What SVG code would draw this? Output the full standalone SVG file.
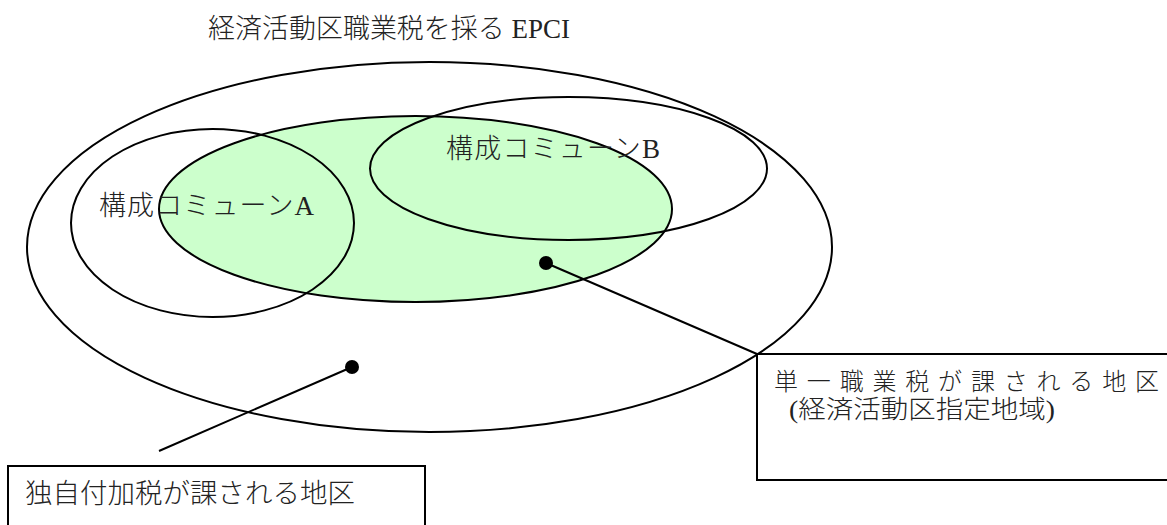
<svg xmlns="http://www.w3.org/2000/svg" width="1167" height="525" viewBox="0 0 1167 525">
<style>
.ln{fill:none;stroke:#000;stroke-width:2}
.t{font-family:"Liberation Serif","Noto Sans CJK JP",serif;fill:#222;font-weight:300}
.dot{fill:#000}
.box{fill:#fff;stroke:#000;stroke-width:2}
</style>
<rect width="1167" height="525" fill="#fff"/>
<text class="t" x="208" y="38" font-size="27" textLength="362" lengthAdjust="spacingAndGlyphs">経済活動区職業税を採る EPCI</text>
<g id="epci">
<ellipse class="ln" cx="429.5" cy="247" rx="402.5" ry="185"/>
</g>
<g id="zone-unique">
<ellipse cx="415.5" cy="209" rx="256.5" ry="93" fill="#ccffcc" stroke="#000" stroke-width="2"/>
</g>
<g id="commune-a">
<ellipse class="ln" cx="212.5" cy="223" rx="141.5" ry="94"/>
<text class="t" x="99" y="215" font-size="27" textLength="215" lengthAdjust="spacing">構成コミューンA</text>
</g>
<g id="commune-b">
<ellipse class="ln" cx="568.5" cy="168.5" rx="198.5" ry="71.5"/>
<text class="t" x="446" y="158" font-size="27" textLength="214" lengthAdjust="spacing">構成コミューンB</text>
</g>
<g id="connectors">
<line class="ln" x1="546" y1="263" x2="757" y2="354"/>
<circle class="dot" cx="546" cy="263" r="7"/>
<line class="ln" x1="352" y1="367" x2="159" y2="451"/>
<circle class="dot" cx="352" cy="367" r="7"/>
</g>
<g id="box-unique">
<rect class="box" x="757" y="354" width="420" height="126"/>
<text class="t" x="774" y="390" font-size="24" textLength="385" lengthAdjust="spacing">単一職業税が課される地区</text>
<text class="t" x="789" y="418" font-size="25" textLength="266" lengthAdjust="spacingAndGlyphs">(経済活動区指定地域)</text>
</g>
<g id="box-additional">
<rect class="box" x="8" y="466" width="417" height="70"/>
<text class="t" x="25" y="503" font-size="27" textLength="330" lengthAdjust="spacingAndGlyphs">独自付加税が課される地区</text>
</g>
</svg>
